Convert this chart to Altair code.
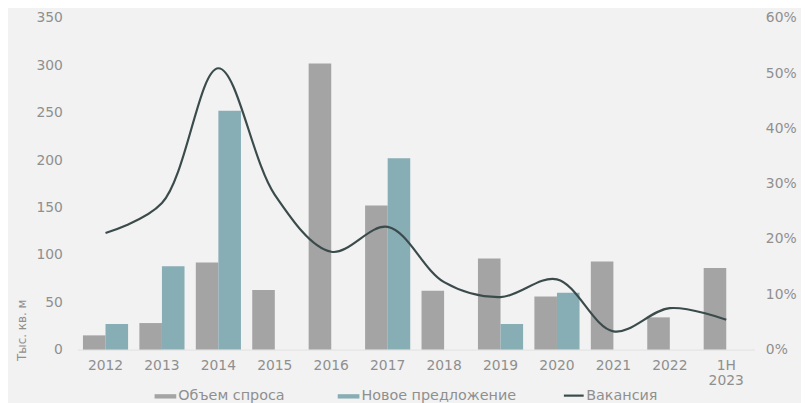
import altair as alt
import pandas as pd

years = ["2012", "2013", "2014", "2015", "2016", "2017", "2018", "2019", "2020", "2021", "2022", "1H 2023"]
demand = [15, 28, 92, 63, 302, 152, 62, 96, 56, 93, 34, 86]
supply = [27, 88, 252, None, None, 202, None, 27, 60, None, None, None]
vacancy = [0.211, 0.265, 0.509, 0.28, 0.177, 0.222, 0.122, 0.095, 0.127, 0.033, 0.075, 0.054]

S_DEMAND = "Объем спроса"
S_SUPPLY = "Новое предложение"
S_VAC = "Вакансия"

bars_rows = []
for y, d, s in zip(years, demand, supply):
    bars_rows.append({"year": y, "series": S_DEMAND, "value": d})
    if s is not None:
        bars_rows.append({"year": y, "series": S_SUPPLY, "value": s})
bars_df = pd.DataFrame(bars_rows)
line_df = pd.DataFrame({"year": years, "vac": vacancy, "series": [S_VAC] * len(years)})

FONT = "DejaVu Sans"
LBL = "#8f8f8f"

x_enc = alt.X(
    "year:N",
    sort=years,
    scale=alt.Scale(paddingInner=0.2, paddingOuter=0.1),
    axis=alt.Axis(
        title=None,
        labelAngle=0,
        ticks=False,
        domain=True,
        domainColor="#e2e2e2",
        labelPadding=9,
        labelFontSize=14,
        labelColor=LBL,
        labelFont=FONT,
        labelLineHeight=15,
        labelExpr="datum.value == '1H 2023' ? ['1H', '2023'] : datum.value",
    ),
)

bars = alt.Chart(bars_df).mark_bar().encode(
    x=x_enc,
    xOffset=alt.XOffset("series:N", sort=[S_DEMAND, S_SUPPLY], scale=alt.Scale(domain=[S_DEMAND, S_SUPPLY])),
    y=alt.Y(
        "value:Q",
        scale=alt.Scale(domain=[0, 350]),
        axis=alt.Axis(
            title="Тыс. кв. м",
            values=[0, 50, 100, 150, 200, 250, 300, 350],
            grid=False,
            ticks=False,
            domain=False,
            labelPadding=15,
            labelFontSize=14,
            labelColor=LBL,
            labelFont=FONT,
            titleFont=FONT,
            titleFontSize=12,
            titleFontWeight="normal",
            titleColor=LBL,
            titleX=-56,
            titleY=315,
            titleAlign="center",
            titleBaseline="middle",
            titleAngle=270,
        ),
    ),
    color=alt.Color(
        "series:N",
        scale=alt.Scale(domain=[S_DEMAND, S_SUPPLY], range=["#a4a4a4", "#87adb5"]),
        legend=alt.Legend(
            title=None,
            orient="none",
            legendX=77,
            legendY=370,
            direction="horizontal",
            symbolType="M-1,-0.2H1V0.2H-1Z",
            symbolSize=480,
            labelFont=FONT,
            labelFontSize=14.5,
            labelColor=LBL,
            columnPadding=52,
            labelOffset=1,
        ),
    ),
)

line = alt.Chart(line_df).mark_line(interpolate="catmull-rom", strokeWidth=2.2).encode(
    x=alt.X("year:N", sort=years),
    y=alt.Y(
        "vac:Q",
        scale=alt.Scale(domain=[0, 0.6]),
        axis=alt.Axis(
            title=None,
            orient="right",
            format="%",
            values=[0, 0.1, 0.2, 0.3, 0.4, 0.5, 0.6],
            grid=False,
            ticks=False,
            domain=False,
            labelPadding=11,
            labelFontSize=14,
            labelColor=LBL,
            labelFont=FONT,
        ),
    ),
    color=alt.Color(
        "series:N",
        scale=alt.Scale(domain=[S_VAC], range=["#3b4b4b"]),
        legend=alt.Legend(
            title=None,
            orient="none",
            legendX=490,
            legendY=370,
            symbolType="stroke",
            symbolSize=400,
            symbolStrokeWidth=2.2,
            labelFont=FONT,
            labelFontSize=14.5,
            labelColor=LBL,
            labelOffset=1,
        ),
    ),
)

chart = (
    alt.layer(bars, line)
    .resolve_scale(y="independent", color="independent")
    .properties(
        width=684,
        height=335,
        background="#f2f2f2",
        padding={"left": 70, "top": 8, "right": 47, "bottom": 60},
        autosize=alt.AutoSizeParams(type="none"),
    )
    .configure_view(stroke=None)
)

chart.save("out.html", embed_options={"renderer": "svg", "actions": False})
